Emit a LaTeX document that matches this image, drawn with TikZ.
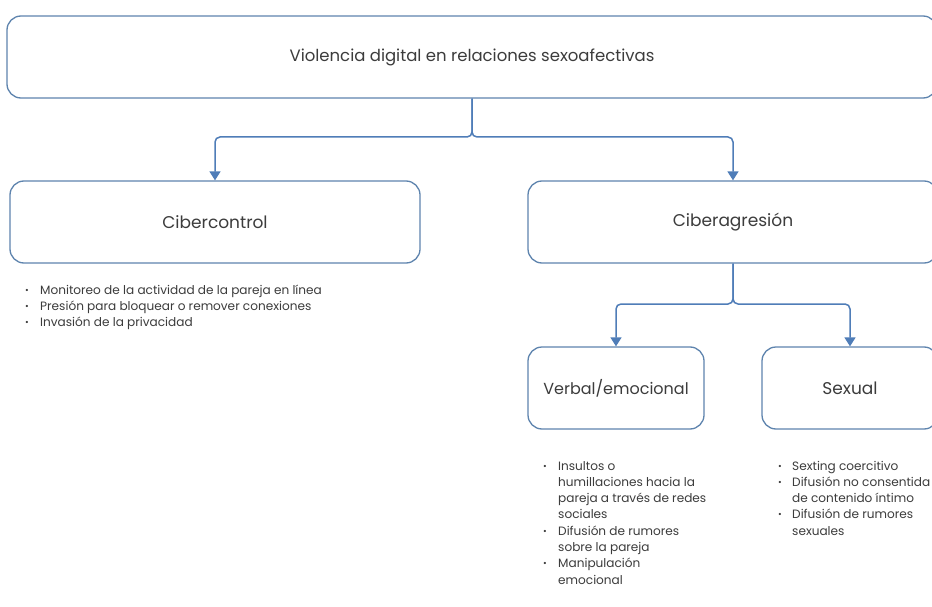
\documentclass[tikz,border=0pt]{standalone}
\usepackage{fontspec}
\setmainfont{Poppins}
\usetikzlibrary{arrows.meta}
\definecolor{boxline}{HTML}{5E84AE}
\definecolor{arrowc}{HTML}{4F7DB8}
\definecolor{txt}{HTML}{3C3C3C}
\newcommand{\bul}{\raisebox{0.15ex}{\fontsize{9}{9}\selectfont •}}
\tikzset{
  box/.style={draw=boxline, line width=1.3pt, rounded corners=14pt, fill=white,
    minimum height=82pt, inner sep=0pt, text=txt},
  conn/.style={draw=arrowc, line width=1.5pt, rounded corners=5pt,
    -{Triangle[width=11pt,length=9pt]}},
  list/.style={anchor=base west, inner sep=0pt, text=txt, font=\fontsize{12.1}{16.3}\selectfont}
}
\begin{document}
\begin{tikzpicture}[x=1pt,y=-1pt]
\useasboundingbox (0,0) rectangle (932,607);
\clip (0,0) rectangle (932,607);
\fill[white] (0,0) rectangle (932,607);
\node[box, minimum width=930pt, font=\fontsize{16.5}{18}\selectfont] (top) at (472,57) {Violencia digital en relaciones sexoafectivas};
\node[box, minimum width=410pt, font=\fontsize{17}{19}\selectfont] (cc) at (215,222) {Cibercontrol};
\node[box, minimum width=410pt, font=\fontsize{17}{19}\selectfont] (ca) at (733,222) {Ciberagresión};
\node[box, minimum width=176pt, font=\fontsize{16}{19}\selectfont] (ve) at (616,388) {Verbal/emocional};
\node[box, minimum width=176pt, font=\fontsize{17}{19}\selectfont] (se) at (850,388) {Sexual};
\coordinate (j1) at (472,137);
\coordinate (j2) at (733,304);
\draw[conn] (top.south) -- (j1) -| (cc.north);
\draw[conn] (top.south) -- (j1) -| (ca.north);
\draw[conn] (ca.south) -- (j2) -| (ve.north);
\draw[conn] (ca.south) -- (j2) -| (se.north);
\node[list] (l1) at (25,294) {\begin{tabular}[t]{@{}p{15pt}@{}l@{}}
\bul & Monitoreo de la actividad de la pareja en línea\\
\bul & Presión para bloquear o remover conexiones\\
\bul & Invasión de la privacidad
\end{tabular}};
\node[list] (l2) at (543,470) {\begin{tabular}[t]{@{}p{15pt}@{}l@{}}
\bul & Insultos o\\
 & humillaciones hacia la\\
 & pareja a través de redes\\
 & sociales\\
\bul & Difusión de rumores\\
 & sobre la pareja\\
\bul & Manipulación\\
 & emocional
\end{tabular}};
\node[list] (l3) at (778,470) {\begin{tabular}[t]{@{}p{14pt}@{}l@{}}
\bul & Sexting coercitivo\\
\bul & Difusión no consentida\\
 & de contenido íntimo\\
\bul & Difusión de rumores\\
 & sexuales
\end{tabular}};
\end{tikzpicture}
\end{document}
